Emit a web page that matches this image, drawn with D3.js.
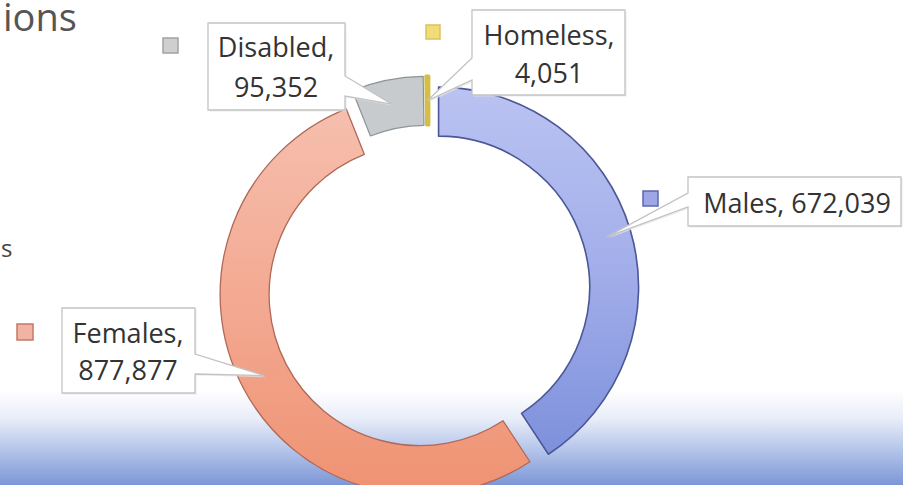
<!DOCTYPE html>
<html><head><meta charset="utf-8">
<script src="https://cdn.jsdelivr.net/npm/d3@7"></script>
<style>html,body{margin:0;padding:0;background:#fff;overflow:hidden}</style>
</head><body>
<svg id="c" width="903" height="485"></svg>
<script>
// ---- data ----
const categories = ["Males", "Females", "Disabled", "Homeless"];
const values = [672039, 877877, 95352, 4051];
const titleFragment = "ions";
const sideFragment = "s";

// ---- style ----
const W = 903, H = 485;
const cx = 429, cy = 290, R = 200, r = 151;
const explode = [10, 10, 14, 14];
const fills = ["url(#gBlue)", "url(#gPink)", "#c7cbce", "#e9d466"];
const strokes = ["#4b5796", "#b06858", "#8e9496", "#d4bd48"];
const strokeW = [1.6, 1.3, 1.2, 3];
const keyFill = ["#9ea7e6", "#f1b3a2", "#cfcfcf", "#f2db78"];
const keyStroke = ["#5d67ad", "#c27a68", "#a3a3a3", "#dcc25a"];
const boxes = [
  {x:688, y:177, w:213, h:49, side:"left", b1:193, b2:207, kx:643, ky:191, ks:15, lines:1, tx:797, ty:[213]},
  {x:62, y:308, w:133, h:85, side:"right", b1:354, b2:374, kx:17, ky:324, ks:16, lines:2, tx:128, ty:[343, 380]},
  {x:208, y:23, w:137, h:87, side:"right", b1:76, b2:96, kx:163, ky:38, ks:15, lines:2, tx:276, ty:[57, 97]},
  {x:472, y:10, w:153, h:85, side:"left", b1:58, b2:80, kx:426, ky:25, ks:14, lines:2, tx:549, ty:[45, 83]}
];

const svg = d3.select("#c");
const defs = svg.append("defs");
function grad(id, stops) {
  const g = defs.append("linearGradient").attr("id", id)
    .attr("x1", 0).attr("y1", 0).attr("x2", 0).attr("y2", 1);
  stops.forEach(s => g.append("stop").attr("offset", s[0]).attr("stop-color", s[1]));
}
grad("gBlue", [[0, "#bac3f1"], [0.5, "#a2aeea"], [1, "#7d90db"]]);
grad("gPink", [[0, "#f6bfae"], [0.5, "#f3a992"], [1, "#ef9272"]]);
grad("gBand", [[0, "#ffffff"], [0.3, "#e8edf8"], [0.6, "#b9c8eb"], [1, "#7c97d6"]]);

svg.append("rect").attr("width", W).attr("height", H).attr("fill", "#ffffff");
svg.append("rect").attr("x", 0).attr("y", 390).attr("width", W).attr("height", 95).attr("fill", "url(#gBand)");

svg.append("text").attr("x", 3).attr("y", 31).text(titleFragment)
  .attr("font-family", "'Open Sans', sans-serif").attr("font-size", 38).attr("fill", "#555555");
svg.append("text").attr("x", 1).attr("y", 257).text(sideFragment)
  .attr("font-family", "'Open Sans', sans-serif").attr("font-size", 24).attr("fill", "#444444");

// donut
const pie = d3.pie().sort(null).value(d => d);
const arcs = pie(values);
const arc = d3.arc().innerRadius(r).outerRadius(R);
const g = svg.append("g").attr("transform", `translate(${cx},${cy})`);
const offs = arcs.map((a, i) => {
  const m = (a.startAngle + a.endAngle) / 2;
  return [explode[i] * Math.sin(m), -explode[i] * Math.cos(m)];
});
g.selectAll("path.slice").data(arcs).join("path")
  .attr("class", "slice")
  .attr("d", arc)
  .attr("transform", (d, i) => `translate(${offs[i][0]},${offs[i][1]})`)
  .attr("fill", (d, i) => fills[i])
  .attr("stroke", (d, i) => strokes[i])
  .attr("stroke-width", (d, i) => strokeW[i])
  .attr("stroke-linejoin", "round");

// callouts
const fmt = d3.format(",");
arcs.forEach((a, i) => {
  const b = boxes[i];
  const c = arc.centroid(a);
  const tip = [cx + c[0] + offs[i][0], cy + c[1] + offs[i][1]];
  let p;
  const x0 = b.x, y0 = b.y, x1 = b.x + b.w, y1 = b.y + b.h;
  if (b.side === "left") {
    p = `M${x0},${y0}L${x1},${y0}L${x1},${y1}L${x0},${y1}L${x0},${b.b2}L${tip[0]},${tip[1]}L${x0},${b.b1}Z`;
  } else {
    p = `M${x0},${y0}L${x1},${y0}L${x1},${b.b1}L${tip[0]},${tip[1]}L${x1},${b.b2}L${x1},${y1}L${x0},${y1}Z`;
  }
  svg.append("path").attr("d", p).attr("fill", "#e4e4e4").attr("transform", "translate(1.5,1.5)").attr("opacity", 0.7);
  svg.append("path").attr("d", p).attr("fill", "#ffffff").attr("stroke", "#c3c3c3").attr("stroke-width", 1.3);
  svg.append("rect").attr("x", b.kx).attr("y", b.ky).attr("width", b.ks).attr("height", b.ks)
    .attr("fill", keyFill[i]).attr("stroke", keyStroke[i]).attr("stroke-width", 1.5);
  const lines = b.lines === 1 ? [categories[i] + ", " + fmt(values[i])] : [categories[i] + ",", fmt(values[i])];
  lines.forEach((t, k) => {
    svg.append("text").attr("x", b.tx).attr("y", b.ty[k]).attr("text-anchor", "middle")
      .attr("font-family", "'Open Sans', sans-serif").attr("font-size", 27).attr("fill", "#333333").text(t);
  });
});
</script>
</body></html>
